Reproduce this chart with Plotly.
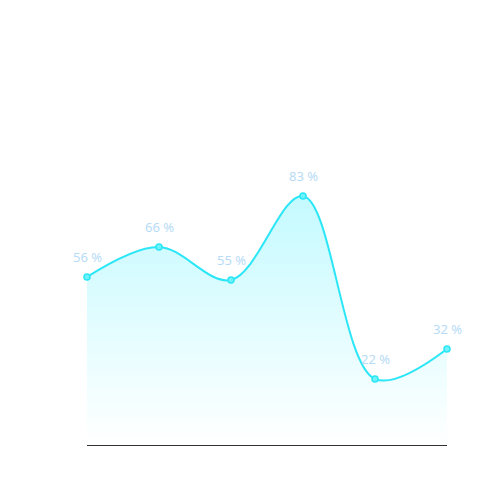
import plotly.graph_objects as go

categories = ["A", "B", "C", "D", "E", "F"]
values = [56, 66, 55, 83, 22, 32]
labels = [f"{v} %" for v in values]

# the page puts the figure 8px in from the top-left corner
W, H = 492, 492
L, T, pw, ph = 79, 137, 360, 300
R, B = W - L - pw, H - T - ph

fig = go.Figure()
fig.add_trace(
    go.Scatter(
        x=list(range(len(categories))),
        y=values,
        mode="lines+markers",
        line=dict(color="#2ae6f6", width=2, shape="spline", smoothing=1.0),
        marker=dict(size=6, color="#6ff2fb", line=dict(color="#2ae6f6", width=1.5)),
        fill="tozeroy",
        fillgradient=dict(
            type="vertical",
            colorscale=[[0, "rgba(255,255,255,1)"], [1, "rgba(196,250,255,1)"]],
        ),
        cliponaxis=False,
        hoverinfo="skip",
    )
)

for i, (v, t) in enumerate(zip(values, labels)):
    fig.add_annotation(
        x=i, y=v, text=t, showarrow=False, yshift=20,
        font=dict(family="Noto Sans", size=13, color="#b7dbf6"),
    )

fig.update_layout(
    width=W, height=H,
    margin=dict(l=L, r=R, t=T, b=B),
    paper_bgcolor="white",
    plot_bgcolor="rgba(0,0,0,0)",
    showlegend=False,
    xaxis=dict(
        range=[0, len(categories) - 1],
        showgrid=False, zeroline=False, showticklabels=False, ticks="",
        showline=True, linecolor="#333333", linewidth=1,
    ),
    yaxis=dict(
        range=[0, 100],
        showgrid=False, zeroline=False, showticklabels=False, ticks="",
        showline=False,
    ),
)

fig.write_html("out.html")
